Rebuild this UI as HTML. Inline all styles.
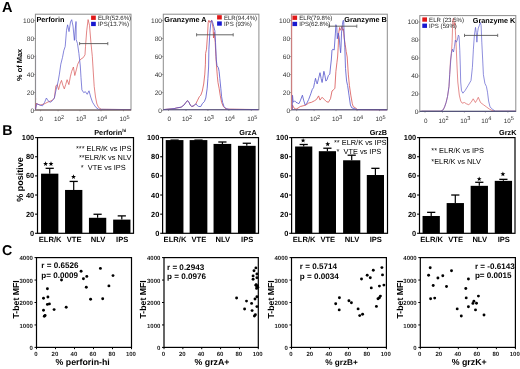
<!DOCTYPE html>
<html><head><meta charset="utf-8"><style>
html,body{margin:0;padding:0;background:#fff;width:520px;height:369px;overflow:hidden}
svg{display:block;font-family:"Liberation Sans", sans-serif;will-change:transform;text-rendering:geometricPrecision}
</style></head><body>
<svg width="520" height="369" viewBox="0 0 520 369">
<text x="1.90" y="12.30" font-size="14.5" font-weight="bold" text-anchor="start" fill="#000" >A</text>
<text x="2.30" y="134.80" font-size="14.2" font-weight="bold" text-anchor="start" fill="#000" >B</text>
<text x="2.00" y="254.70" font-size="14.2" font-weight="bold" text-anchor="start" fill="#000" >C</text>
<line x1="35.60" y1="55.00" x2="35.60" y2="100.00" stroke="#9a8cc0" stroke-width="0.9" />
<line x1="35.60" y1="98.00" x2="35.60" y2="110.00" stroke="#d88a8a" stroke-width="0.9" />
<rect x="35.40" y="14.20" width="95.60" height="95.80" fill="none" stroke="#8c8c8c" stroke-width="1"/>
<line x1="33.80" y1="110.60" x2="35.40" y2="110.60" stroke="#777" stroke-width="0.7" />
<text x="34.10" y="112.95" font-size="6.6" font-weight="normal" text-anchor="end" fill="#333" >0</text>
<line x1="33.80" y1="92.60" x2="35.40" y2="92.60" stroke="#777" stroke-width="0.7" />
<text x="34.10" y="94.95" font-size="6.6" font-weight="normal" text-anchor="end" fill="#333" >20</text>
<line x1="33.80" y1="74.60" x2="35.40" y2="74.60" stroke="#777" stroke-width="0.7" />
<text x="34.10" y="76.95" font-size="6.6" font-weight="normal" text-anchor="end" fill="#333" >40</text>
<line x1="33.80" y1="56.60" x2="35.40" y2="56.60" stroke="#777" stroke-width="0.7" />
<text x="34.10" y="58.95" font-size="6.6" font-weight="normal" text-anchor="end" fill="#333" >60</text>
<line x1="33.80" y1="38.60" x2="35.40" y2="38.60" stroke="#777" stroke-width="0.7" />
<text x="34.10" y="40.95" font-size="6.6" font-weight="normal" text-anchor="end" fill="#333" >80</text>
<line x1="33.80" y1="20.60" x2="35.40" y2="20.60" stroke="#777" stroke-width="0.7" />
<text x="34.10" y="22.95" font-size="6.6" font-weight="normal" text-anchor="end" fill="#333" >100</text>
<text x="41.30" y="121.30" font-size="6.3" font-weight="normal" text-anchor="middle" fill="#333" >0</text>
<text x="59.10" y="121.30" font-size="6.3" font-weight="normal" text-anchor="middle" fill="#333" >10<tspan font-size="5.6" dy="-2.3">2</tspan></text>
<text x="81.00" y="121.30" font-size="6.3" font-weight="normal" text-anchor="middle" fill="#333" >10<tspan font-size="5.6" dy="-2.3">3</tspan></text>
<text x="102.00" y="121.30" font-size="6.3" font-weight="normal" text-anchor="middle" fill="#333" >10<tspan font-size="5.6" dy="-2.3">4</tspan></text>
<text x="124.50" y="121.30" font-size="6.3" font-weight="normal" text-anchor="middle" fill="#333" >10<tspan font-size="5.6" dy="-2.3">5</tspan></text>
<line x1="40.60" y1="110.00" x2="40.60" y2="111.30" stroke="#777" stroke-width="0.6" />
<line x1="58.10" y1="110.00" x2="58.10" y2="111.30" stroke="#777" stroke-width="0.6" />
<line x1="80.00" y1="110.00" x2="80.00" y2="111.30" stroke="#777" stroke-width="0.6" />
<line x1="101.00" y1="110.00" x2="101.00" y2="111.30" stroke="#777" stroke-width="0.6" />
<line x1="123.50" y1="110.00" x2="123.50" y2="111.30" stroke="#777" stroke-width="0.6" />
<polyline points="35.5,109.5 36.2,103.0 37.0,104.0 40.3,105.0 44.0,104.0 48.0,102.0 52.0,100.5 54.4,98.0 55.8,86.0 57.2,84.6 58.6,89.6 60.0,84.0 61.5,80.4 62.9,85.4 64.3,88.9 65.7,84.6 67.1,79.7 68.9,84.6 70.3,76.9 71.7,71.3 73.4,67.0 74.8,75.5 76.3,69.9 77.7,64.2 79.6,60.5 81.0,59.0 83.2,57.7 85.0,54.8 85.5,46.4 86.7,30.9 88.1,19.6 89.5,25.3 90.9,42.2 92.3,56.3 93.4,74.0 94.2,86.4 95.5,97.0 96.9,104.0 98.6,107.5 101.3,109.3 131.0,109.6" fill="none" stroke="#d85555" stroke-width="0.95" stroke-linejoin="round" opacity="0.75"/>
<polyline points="35.5,109.5 36.8,103.7 39.6,105.0 42.5,105.8 44.6,102.3 46.4,98.0 48.1,100.8 50.2,102.3 52.3,100.8 54.4,98.0 55.8,91.0 57.2,85.4 58.2,81.1 59.4,74.1 60.8,64.2 62.5,57.4 63.8,50.6 65.2,46.5 66.5,30.3 67.6,24.8 69.0,31.6 70.5,22.0 71.7,19.7 73.0,26.0 74.4,40.4 75.2,30.0 76.0,21.5 76.1,22.5 76.1,39.4 77.5,43.6 78.9,53.4 80.3,66.0 81.0,77.6 81.9,89.9 83.7,92.6 85.4,91.7 87.2,94.3 89.0,90.8 90.7,97.0 92.5,102.2 94.2,104.9 96.0,107.5 98.6,109.3 131.0,109.6" fill="none" stroke="#5555cc" stroke-width="0.95" stroke-linejoin="round" opacity="0.75"/>
<line x1="79.60" y1="43.60" x2="107.80" y2="43.60" stroke="#555" stroke-width="0.9" />
<line x1="79.60" y1="42.00" x2="79.60" y2="45.20" stroke="#555" stroke-width="0.8" />
<line x1="107.80" y1="42.00" x2="107.80" y2="45.20" stroke="#555" stroke-width="0.8" />
<line x1="35.40" y1="110.00" x2="131.00" y2="110.00" stroke="#6a5555" stroke-width="1.1" />
<text x="36.40" y="22.10" font-size="7.3" font-weight="bold" text-anchor="start" fill="#000" >Perforin</text>
<rect x="91.10" y="15.60" width="4.70" height="4.30" fill="#e01818" />
<rect x="91.10" y="21.80" width="4.70" height="4.30" fill="#1818d0" />
<text x="97.90" y="20.20" font-size="6.1" font-weight="normal" text-anchor="start" fill="#222" >ELR(52.6%)</text>
<text x="97.90" y="26.40" font-size="6.1" font-weight="normal" text-anchor="start" fill="#222" >IPS(13.7%)</text>
<rect x="163.30" y="14.20" width="95.60" height="95.50" fill="none" stroke="#8c8c8c" stroke-width="1"/>
<line x1="161.70" y1="110.60" x2="163.30" y2="110.60" stroke="#777" stroke-width="0.7" />
<text x="162.00" y="112.95" font-size="6.6" font-weight="normal" text-anchor="end" fill="#333" >0</text>
<line x1="161.70" y1="92.60" x2="163.30" y2="92.60" stroke="#777" stroke-width="0.7" />
<text x="162.00" y="94.95" font-size="6.6" font-weight="normal" text-anchor="end" fill="#333" >20</text>
<line x1="161.70" y1="74.60" x2="163.30" y2="74.60" stroke="#777" stroke-width="0.7" />
<text x="162.00" y="76.95" font-size="6.6" font-weight="normal" text-anchor="end" fill="#333" >40</text>
<line x1="161.70" y1="56.60" x2="163.30" y2="56.60" stroke="#777" stroke-width="0.7" />
<text x="162.00" y="58.95" font-size="6.6" font-weight="normal" text-anchor="end" fill="#333" >60</text>
<line x1="161.70" y1="38.60" x2="163.30" y2="38.60" stroke="#777" stroke-width="0.7" />
<text x="162.00" y="40.95" font-size="6.6" font-weight="normal" text-anchor="end" fill="#333" >80</text>
<line x1="161.70" y1="20.60" x2="163.30" y2="20.60" stroke="#777" stroke-width="0.7" />
<text x="162.00" y="22.95" font-size="6.6" font-weight="normal" text-anchor="end" fill="#333" >100</text>
<text x="169.20" y="121.00" font-size="6.3" font-weight="normal" text-anchor="middle" fill="#333" >0</text>
<text x="187.00" y="121.00" font-size="6.3" font-weight="normal" text-anchor="middle" fill="#333" >10<tspan font-size="5.6" dy="-2.3">2</tspan></text>
<text x="208.90" y="121.00" font-size="6.3" font-weight="normal" text-anchor="middle" fill="#333" >10<tspan font-size="5.6" dy="-2.3">3</tspan></text>
<text x="229.90" y="121.00" font-size="6.3" font-weight="normal" text-anchor="middle" fill="#333" >10<tspan font-size="5.6" dy="-2.3">4</tspan></text>
<text x="252.40" y="121.00" font-size="6.3" font-weight="normal" text-anchor="middle" fill="#333" >10<tspan font-size="5.6" dy="-2.3">5</tspan></text>
<line x1="168.50" y1="109.70" x2="168.50" y2="111.00" stroke="#777" stroke-width="0.6" />
<line x1="186.00" y1="109.70" x2="186.00" y2="111.00" stroke="#777" stroke-width="0.6" />
<line x1="207.90" y1="109.70" x2="207.90" y2="111.00" stroke="#777" stroke-width="0.6" />
<line x1="228.90" y1="109.70" x2="228.90" y2="111.00" stroke="#777" stroke-width="0.6" />
<line x1="251.40" y1="109.70" x2="251.40" y2="111.00" stroke="#777" stroke-width="0.6" />
<polyline points="163.2,109.6 174.1,108.6 176.9,107.9 181.1,107.2 184.0,105.0 186.0,102.3 187.5,100.6 188.9,102.3 190.3,105.0 191.7,106.5 193.8,105.8 195.9,103.7 197.3,100.8 199.4,96.6 200.8,95.2 202.3,91.0 203.7,84.0 204.8,74.1 205.4,64.2 205.6,53.4 206.5,49.2 207.5,35.1 208.2,22.5 208.9,20.3 209.9,22.5 210.7,21.0 211.7,20.3 213.1,28.1 213.5,38.0 214.2,32.3 215.2,42.2 215.9,56.3 216.6,67.0 217.4,76.9 218.0,82.6 219.1,88.2 220.2,95.3 221.6,102.3 223.3,106.5 226.2,109.1 258.0,109.6" fill="none" stroke="#d85555" stroke-width="0.95" stroke-linejoin="round" opacity="0.85"/>
<polyline points="163.2,109.6 174.1,108.6 176.9,107.9 181.1,107.2 184.0,105.0 186.0,102.3 187.5,100.6 188.9,102.3 190.3,105.0 191.7,106.5 193.8,105.8 195.9,103.7 196.6,105.0 198.7,106.5 200.8,106.5 202.3,103.7 204.4,101.5 205.8,98.0 207.2,88.2 207.9,78.3 208.6,67.0 208.9,49.2 209.9,32.3 210.7,23.9 211.7,20.3 212.7,22.5 213.8,26.7 214.9,30.9 215.5,42.2 216.3,60.0 217.0,65.6 218.4,67.8 219.1,71.3 219.8,78.3 220.8,88.2 221.6,96.7 222.6,102.3 224.0,106.5 226.2,108.7 229.0,109.4 258.0,109.6" fill="none" stroke="#5555cc" stroke-width="0.95" stroke-linejoin="round" opacity="0.85"/>
<line x1="196.60" y1="34.80" x2="233.20" y2="34.80" stroke="#555" stroke-width="0.9" />
<line x1="196.60" y1="33.20" x2="196.60" y2="36.40" stroke="#555" stroke-width="0.8" />
<line x1="233.20" y1="33.20" x2="233.20" y2="36.40" stroke="#555" stroke-width="0.8" />
<line x1="163.30" y1="109.70" x2="258.90" y2="109.70" stroke="#5a5080" stroke-width="1.1" />
<text x="164.30" y="22.10" font-size="7.3" font-weight="bold" text-anchor="start" fill="#000" >Granzyme A</text>
<rect x="217.10" y="15.20" width="4.70" height="4.30" fill="#e01818" />
<rect x="217.10" y="21.40" width="4.70" height="4.30" fill="#1818d0" />
<text x="223.90" y="19.80" font-size="6.1" font-weight="normal" text-anchor="start" fill="#222" >ELR(94.4%)</text>
<text x="223.90" y="26.00" font-size="6.1" font-weight="normal" text-anchor="start" fill="#222" >IPS (93%)</text>
<rect x="291.40" y="14.20" width="95.90" height="95.60" fill="none" stroke="#8c8c8c" stroke-width="1"/>
<line x1="289.80" y1="110.60" x2="291.40" y2="110.60" stroke="#777" stroke-width="0.7" />
<text x="290.10" y="112.95" font-size="6.6" font-weight="normal" text-anchor="end" fill="#333" >0</text>
<line x1="289.80" y1="92.60" x2="291.40" y2="92.60" stroke="#777" stroke-width="0.7" />
<text x="290.10" y="94.95" font-size="6.6" font-weight="normal" text-anchor="end" fill="#333" >20</text>
<line x1="289.80" y1="74.60" x2="291.40" y2="74.60" stroke="#777" stroke-width="0.7" />
<text x="290.10" y="76.95" font-size="6.6" font-weight="normal" text-anchor="end" fill="#333" >40</text>
<line x1="289.80" y1="56.60" x2="291.40" y2="56.60" stroke="#777" stroke-width="0.7" />
<text x="290.10" y="58.95" font-size="6.6" font-weight="normal" text-anchor="end" fill="#333" >60</text>
<line x1="289.80" y1="38.60" x2="291.40" y2="38.60" stroke="#777" stroke-width="0.7" />
<text x="290.10" y="40.95" font-size="6.6" font-weight="normal" text-anchor="end" fill="#333" >80</text>
<line x1="289.80" y1="20.60" x2="291.40" y2="20.60" stroke="#777" stroke-width="0.7" />
<text x="290.10" y="22.95" font-size="6.6" font-weight="normal" text-anchor="end" fill="#333" >100</text>
<text x="297.30" y="121.10" font-size="6.3" font-weight="normal" text-anchor="middle" fill="#333" >0</text>
<text x="315.10" y="121.10" font-size="6.3" font-weight="normal" text-anchor="middle" fill="#333" >10<tspan font-size="5.6" dy="-2.3">2</tspan></text>
<text x="337.00" y="121.10" font-size="6.3" font-weight="normal" text-anchor="middle" fill="#333" >10<tspan font-size="5.6" dy="-2.3">3</tspan></text>
<text x="358.00" y="121.10" font-size="6.3" font-weight="normal" text-anchor="middle" fill="#333" >10<tspan font-size="5.6" dy="-2.3">4</tspan></text>
<text x="380.50" y="121.10" font-size="6.3" font-weight="normal" text-anchor="middle" fill="#333" >10<tspan font-size="5.6" dy="-2.3">5</tspan></text>
<line x1="296.60" y1="109.80" x2="296.60" y2="111.10" stroke="#777" stroke-width="0.6" />
<line x1="314.10" y1="109.80" x2="314.10" y2="111.10" stroke="#777" stroke-width="0.6" />
<line x1="336.00" y1="109.80" x2="336.00" y2="111.10" stroke="#777" stroke-width="0.6" />
<line x1="357.00" y1="109.80" x2="357.00" y2="111.10" stroke="#777" stroke-width="0.6" />
<line x1="379.50" y1="109.80" x2="379.50" y2="111.10" stroke="#777" stroke-width="0.6" />
<polyline points="292.1,109.5 292.5,105.0 293.9,107.9 296.0,109.3 298.2,107.9 300.3,106.5 303.1,105.8 305.9,105.0 308.7,103.0 311.5,102.3 314.4,100.8 316.5,99.4 318.6,95.9 320.0,100.1 322.1,97.3 324.2,99.4 326.3,101.5 328.4,102.3 330.5,98.7 332.0,91.0 333.8,89.6 334.9,88.2 335.9,71.3 336.9,62.8 337.6,57.0 338.2,47.2 338.7,33.1 339.6,27.5 340.1,30.3 341.0,28.9 342.0,26.1 342.7,30.3 343.4,28.9 344.1,37.4 345.2,44.4 346.2,51.4 347.2,57.0 348.3,74.1 349.4,85.4 350.8,95.2 352.3,103.7 353.2,106.5 355.4,107.9 357.5,109.6 387.0,109.8" fill="none" stroke="#d85555" stroke-width="0.95" stroke-linejoin="round" opacity="0.85"/>
<polyline points="292.3,109.5 292.5,95.2 293.2,102.3 294.6,100.8 296.0,102.3 297.5,103.0 298.9,103.7 300.3,100.8 302.4,95.2 303.8,100.8 305.2,105.0 306.6,103.7 308.7,99.4 310.8,93.8 312.2,89.6 313.6,87.5 314.6,82.5 315.5,78.3 316.5,82.5 317.2,83.9 318.6,78.3 320.0,72.7 321.1,78.3 322.1,82.5 322.8,78.3 323.9,71.3 324.9,75.5 325.9,81.1 327.0,79.7 328.4,75.5 329.8,74.1 330.5,67.0 331.3,60.0 332.0,50.0 332.8,49.3 334.2,50.0 335.4,33.1 335.9,24.7 336.8,27.5 337.3,38.8 338.2,33.1 339.2,37.4 339.9,45.8 340.6,52.8 341.0,47.2 341.5,33.1 342.4,24.7 343.1,20.5 343.7,20.5 344.1,33.1 344.8,47.2 345.5,68.5 346.6,81.1 347.6,85.4 349.0,95.2 350.4,105.0 351.8,107.9 354.6,108.6 356.8,109.6 387.0,109.8" fill="none" stroke="#5555cc" stroke-width="0.95" stroke-linejoin="round" opacity="0.85"/>
<line x1="329.10" y1="26.20" x2="356.80" y2="26.20" stroke="#555" stroke-width="0.9" />
<line x1="329.10" y1="24.60" x2="329.10" y2="27.80" stroke="#555" stroke-width="0.8" />
<line x1="356.80" y1="24.60" x2="356.80" y2="27.80" stroke="#555" stroke-width="0.8" />
<line x1="291.40" y1="109.80" x2="387.30" y2="109.80" stroke="#5a5080" stroke-width="1.1" />
<text x="386.90" y="21.90" font-size="7.3" font-weight="bold" text-anchor="end" fill="#000" >Granzyme B</text>
<rect x="292.40" y="15.60" width="4.70" height="4.30" fill="#e01818" />
<rect x="292.40" y="21.80" width="4.70" height="4.30" fill="#1818d0" />
<text x="299.20" y="20.20" font-size="6.1" font-weight="normal" text-anchor="start" fill="#222" >ELR(79.8%)</text>
<text x="299.20" y="26.40" font-size="6.1" font-weight="normal" text-anchor="start" fill="#222" >IPS(62.8%)</text>
<rect x="419.80" y="15.60" width="96.00" height="95.80" fill="none" stroke="#8c8c8c" stroke-width="1"/>
<line x1="418.20" y1="112.00" x2="419.80" y2="112.00" stroke="#777" stroke-width="0.7" />
<text x="418.50" y="114.35" font-size="6.6" font-weight="normal" text-anchor="end" fill="#333" >0</text>
<line x1="418.20" y1="94.00" x2="419.80" y2="94.00" stroke="#777" stroke-width="0.7" />
<text x="418.50" y="96.35" font-size="6.6" font-weight="normal" text-anchor="end" fill="#333" >20</text>
<line x1="418.20" y1="76.00" x2="419.80" y2="76.00" stroke="#777" stroke-width="0.7" />
<text x="418.50" y="78.35" font-size="6.6" font-weight="normal" text-anchor="end" fill="#333" >40</text>
<line x1="418.20" y1="58.00" x2="419.80" y2="58.00" stroke="#777" stroke-width="0.7" />
<text x="418.50" y="60.35" font-size="6.6" font-weight="normal" text-anchor="end" fill="#333" >60</text>
<line x1="418.20" y1="40.00" x2="419.80" y2="40.00" stroke="#777" stroke-width="0.7" />
<text x="418.50" y="42.35" font-size="6.6" font-weight="normal" text-anchor="end" fill="#333" >80</text>
<line x1="418.20" y1="22.00" x2="419.80" y2="22.00" stroke="#777" stroke-width="0.7" />
<text x="418.50" y="24.35" font-size="6.6" font-weight="normal" text-anchor="end" fill="#333" >100</text>
<text x="425.70" y="122.70" font-size="6.3" font-weight="normal" text-anchor="middle" fill="#333" >0</text>
<text x="443.50" y="122.70" font-size="6.3" font-weight="normal" text-anchor="middle" fill="#333" >10<tspan font-size="5.6" dy="-2.3">2</tspan></text>
<text x="465.40" y="122.70" font-size="6.3" font-weight="normal" text-anchor="middle" fill="#333" >10<tspan font-size="5.6" dy="-2.3">3</tspan></text>
<text x="486.40" y="122.70" font-size="6.3" font-weight="normal" text-anchor="middle" fill="#333" >10<tspan font-size="5.6" dy="-2.3">4</tspan></text>
<text x="508.90" y="122.70" font-size="6.3" font-weight="normal" text-anchor="middle" fill="#333" >10<tspan font-size="5.6" dy="-2.3">5</tspan></text>
<line x1="425.00" y1="111.40" x2="425.00" y2="112.70" stroke="#777" stroke-width="0.6" />
<line x1="442.50" y1="111.40" x2="442.50" y2="112.70" stroke="#777" stroke-width="0.6" />
<line x1="464.40" y1="111.40" x2="464.40" y2="112.70" stroke="#777" stroke-width="0.6" />
<line x1="485.40" y1="111.40" x2="485.40" y2="112.70" stroke="#777" stroke-width="0.6" />
<line x1="507.90" y1="111.40" x2="507.90" y2="112.70" stroke="#777" stroke-width="0.6" />
<polyline points="421.5,111.2 441.0,111.2 443.2,109.8 444.6,106.9 446.1,102.5 447.5,96.6 449.0,86.4 449.7,74.6 450.5,60.0 451.4,53.4 452.1,42.2 452.5,28.1 452.8,19.6 453.5,18.2 454.2,25.3 454.9,22.5 455.6,35.1 456.3,49.2 457.0,66.0 457.8,82.0 459.3,95.1 460.7,101.0 462.2,103.2 464.4,102.5 466.6,103.9 468.8,104.7 471.0,102.5 473.2,98.8 475.4,102.5 476.8,100.3 478.3,97.3 480.5,102.5 483.4,104.7 486.4,106.9 489.3,109.0 492.2,110.5 495.1,111.2 516.0,111.2" fill="none" stroke="#d85555" stroke-width="0.95" stroke-linejoin="round" opacity="0.7"/>
<polyline points="421.5,111.2 441.0,111.2 443.2,109.8 444.6,106.9 446.1,102.5 447.5,96.6 449.0,86.4 449.7,74.6 450.3,66.0 451.4,53.4 452.5,49.2 453.5,52.0 454.5,46.4 455.3,40.1 456.3,42.2 457.3,40.1 458.4,35.1 459.1,36.5 459.8,50.6 460.3,66.0 460.7,82.0 461.5,90.7 462.9,93.2 465.1,90.5 468.1,85.6 471.0,80.5 472.4,67.3 473.4,49.2 474.4,35.1 475.5,27.4 476.2,32.3 476.9,42.2 477.6,32.3 478.3,28.1 479.4,25.3 480.4,22.5 481.1,25.3 481.8,42.2 482.7,60.0 483.4,74.6 484.9,83.4 486.4,86.4 487.5,92.2 488.6,101.0 490.0,106.9 492.2,109.0 495.1,111.2 516.0,111.2" fill="none" stroke="#5555cc" stroke-width="0.95" stroke-linejoin="round" opacity="0.7"/>
<line x1="464.50" y1="35.40" x2="497.70" y2="35.40" stroke="#555" stroke-width="0.9" />
<line x1="464.50" y1="33.80" x2="464.50" y2="37.00" stroke="#555" stroke-width="0.8" />
<line x1="497.70" y1="33.80" x2="497.70" y2="37.00" stroke="#555" stroke-width="0.8" />
<line x1="419.80" y1="111.40" x2="515.80" y2="111.40" stroke="#55557a" stroke-width="1.1" />
<text x="515.40" y="23.30" font-size="7.3" font-weight="bold" text-anchor="end" fill="#000" >Granzyme K</text>
<rect x="422.30" y="17.40" width="4.70" height="4.30" fill="#e01818" />
<rect x="422.30" y="23.60" width="4.70" height="4.30" fill="#1818d0" />
<text x="429.10" y="22.00" font-size="6.1" font-weight="normal" text-anchor="start" fill="#222" >ELR (23.5%)</text>
<text x="429.10" y="28.20" font-size="6.1" font-weight="normal" text-anchor="start" fill="#222" >IPS (59%)</text>
<line x1="291.70" y1="15.00" x2="291.70" y2="109.50" stroke="#d87a7a" stroke-width="1.0" />
<text transform="translate(21.60,64.90) rotate(-90)" font-size="7.4" font-weight="bold" text-anchor="middle">% of Max</text>
<rect x="37.50" y="137.6" width="96.00" height="95.70" fill="none" stroke="#000" stroke-width="1.2"/>
<line x1="35.10" y1="233.30" x2="37.50" y2="233.30" stroke="#000" stroke-width="1.1" />
<text x="34.20" y="235.90" font-size="7.4" font-weight="bold" text-anchor="end" fill="#000" >0</text>
<line x1="35.10" y1="214.16" x2="37.50" y2="214.16" stroke="#000" stroke-width="1.1" />
<text x="34.20" y="216.76" font-size="7.4" font-weight="bold" text-anchor="end" fill="#000" >20</text>
<line x1="35.10" y1="195.02" x2="37.50" y2="195.02" stroke="#000" stroke-width="1.1" />
<text x="34.20" y="197.62" font-size="7.4" font-weight="bold" text-anchor="end" fill="#000" >40</text>
<line x1="35.10" y1="175.88" x2="37.50" y2="175.88" stroke="#000" stroke-width="1.1" />
<text x="34.20" y="178.48" font-size="7.4" font-weight="bold" text-anchor="end" fill="#000" >60</text>
<line x1="35.10" y1="156.74" x2="37.50" y2="156.74" stroke="#000" stroke-width="1.1" />
<text x="34.20" y="159.34" font-size="7.4" font-weight="bold" text-anchor="end" fill="#000" >80</text>
<line x1="35.10" y1="137.60" x2="37.50" y2="137.60" stroke="#000" stroke-width="1.1" />
<text x="34.20" y="140.20" font-size="7.4" font-weight="bold" text-anchor="end" fill="#000" >100</text>
<rect x="41.05" y="173.68" width="17.30" height="59.62" fill="#000" />
<line x1="49.70" y1="168.32" x2="49.70" y2="173.68" stroke="#000" stroke-width="1.2" />
<line x1="45.60" y1="168.32" x2="53.80" y2="168.32" stroke="#000" stroke-width="1.3" />
<rect x="65.05" y="189.95" width="17.30" height="43.35" fill="#000" />
<line x1="73.70" y1="181.43" x2="73.70" y2="189.95" stroke="#000" stroke-width="1.2" />
<line x1="69.60" y1="181.43" x2="77.80" y2="181.43" stroke="#000" stroke-width="1.3" />
<rect x="88.95" y="217.80" width="17.30" height="15.50" fill="#000" />
<line x1="97.60" y1="214.26" x2="97.60" y2="217.80" stroke="#000" stroke-width="1.2" />
<line x1="93.50" y1="214.26" x2="101.70" y2="214.26" stroke="#000" stroke-width="1.3" />
<rect x="113.15" y="219.61" width="17.30" height="13.69" fill="#000" />
<line x1="121.80" y1="215.88" x2="121.80" y2="219.61" stroke="#000" stroke-width="1.2" />
<line x1="117.70" y1="215.88" x2="125.90" y2="215.88" stroke="#000" stroke-width="1.3" />
<text x="50.10" y="241.60" font-size="7.6" font-weight="bold" text-anchor="middle" fill="#000" >ELR/K</text>
<text x="74.10" y="241.60" font-size="7.6" font-weight="bold" text-anchor="middle" fill="#000" >VTE</text>
<text x="98.00" y="241.60" font-size="7.6" font-weight="bold" text-anchor="middle" fill="#000" >NLV</text>
<text x="122.20" y="241.60" font-size="7.6" font-weight="bold" text-anchor="middle" fill="#000" >IPS</text>
<text x="126.30" y="135.10" font-size="7.3" font-weight="bold" text-anchor="end" fill="#000" >Perforin<tspan font-size="4.6" dy="-2.8">hi</tspan></text>
<polygon points="45.60,161.35 46.23,163.03 48.03,163.11 46.62,164.23 47.10,165.96 45.60,164.97 44.10,165.96 44.58,164.23 43.17,163.11 44.97,163.03" fill="#000"/>
<polygon points="51.00,161.35 51.63,163.03 53.43,163.11 52.02,164.23 52.50,165.96 51.00,164.97 49.50,165.96 49.98,164.23 48.57,163.11 50.37,163.03" fill="#000"/>
<polygon points="73.50,174.35 74.13,176.03 75.93,176.11 74.52,177.23 75.00,178.96 73.50,177.97 72.00,178.96 72.48,177.23 71.07,176.11 72.87,176.03" fill="#000"/>
<text x="131.40" y="151.30" font-size="7.4" font-weight="normal" text-anchor="end" fill="#000" xml:space="preserve">*** ELR/K vs IPS</text>
<text x="131.40" y="160.40" font-size="7.4" font-weight="normal" text-anchor="end" fill="#000" xml:space="preserve">**ELR/K vs NLV</text>
<text x="125.60" y="169.50" font-size="7.4" font-weight="normal" text-anchor="end" fill="#000" xml:space="preserve">*  VTE vs IPS</text>
<rect x="162.60" y="137.6" width="95.90" height="95.70" fill="none" stroke="#000" stroke-width="1.2"/>
<line x1="160.20" y1="233.30" x2="162.60" y2="233.30" stroke="#000" stroke-width="1.1" />
<text x="159.30" y="235.90" font-size="7.4" font-weight="bold" text-anchor="end" fill="#000" >0</text>
<line x1="160.20" y1="214.16" x2="162.60" y2="214.16" stroke="#000" stroke-width="1.1" />
<text x="159.30" y="216.76" font-size="7.4" font-weight="bold" text-anchor="end" fill="#000" >20</text>
<line x1="160.20" y1="195.02" x2="162.60" y2="195.02" stroke="#000" stroke-width="1.1" />
<text x="159.30" y="197.62" font-size="7.4" font-weight="bold" text-anchor="end" fill="#000" >40</text>
<line x1="160.20" y1="175.88" x2="162.60" y2="175.88" stroke="#000" stroke-width="1.1" />
<text x="159.30" y="178.48" font-size="7.4" font-weight="bold" text-anchor="end" fill="#000" >60</text>
<line x1="160.20" y1="156.74" x2="162.60" y2="156.74" stroke="#000" stroke-width="1.1" />
<text x="159.30" y="159.34" font-size="7.4" font-weight="bold" text-anchor="end" fill="#000" >80</text>
<line x1="160.20" y1="137.60" x2="162.60" y2="137.60" stroke="#000" stroke-width="1.1" />
<text x="159.30" y="140.20" font-size="7.4" font-weight="bold" text-anchor="end" fill="#000" >100</text>
<rect x="165.75" y="140.09" width="17.70" height="93.21" fill="#000" />
<line x1="174.60" y1="140.09" x2="174.60" y2="140.09" stroke="#000" stroke-width="1.2" />
<line x1="170.50" y1="140.09" x2="178.70" y2="140.09" stroke="#000" stroke-width="1.3" />
<rect x="189.65" y="140.09" width="17.70" height="93.21" fill="#000" />
<line x1="198.50" y1="140.09" x2="198.50" y2="140.09" stroke="#000" stroke-width="1.2" />
<line x1="194.40" y1="140.09" x2="202.60" y2="140.09" stroke="#000" stroke-width="1.3" />
<rect x="213.55" y="143.92" width="17.70" height="89.38" fill="#000" />
<line x1="222.40" y1="142.00" x2="222.40" y2="143.92" stroke="#000" stroke-width="1.2" />
<line x1="218.30" y1="142.00" x2="226.50" y2="142.00" stroke="#000" stroke-width="1.3" />
<rect x="237.95" y="145.83" width="17.70" height="87.47" fill="#000" />
<line x1="246.80" y1="143.25" x2="246.80" y2="145.83" stroke="#000" stroke-width="1.2" />
<line x1="242.70" y1="143.25" x2="250.90" y2="143.25" stroke="#000" stroke-width="1.3" />
<text x="175.00" y="241.60" font-size="7.6" font-weight="bold" text-anchor="middle" fill="#000" >ELR/K</text>
<text x="198.90" y="241.60" font-size="7.6" font-weight="bold" text-anchor="middle" fill="#000" >VTE</text>
<text x="222.80" y="241.60" font-size="7.6" font-weight="bold" text-anchor="middle" fill="#000" >NLV</text>
<text x="247.20" y="241.60" font-size="7.6" font-weight="bold" text-anchor="middle" fill="#000" >IPS</text>
<text x="256.80" y="135.10" font-size="7.3" font-weight="bold" text-anchor="end" fill="#000" >GrzA</text>
<rect x="291.60" y="137.6" width="95.90" height="95.70" fill="none" stroke="#000" stroke-width="1.2"/>
<line x1="289.20" y1="233.30" x2="291.60" y2="233.30" stroke="#000" stroke-width="1.1" />
<text x="288.30" y="235.90" font-size="7.4" font-weight="bold" text-anchor="end" fill="#000" >0</text>
<line x1="289.20" y1="214.16" x2="291.60" y2="214.16" stroke="#000" stroke-width="1.1" />
<text x="288.30" y="216.76" font-size="7.4" font-weight="bold" text-anchor="end" fill="#000" >20</text>
<line x1="289.20" y1="195.02" x2="291.60" y2="195.02" stroke="#000" stroke-width="1.1" />
<text x="288.30" y="197.62" font-size="7.4" font-weight="bold" text-anchor="end" fill="#000" >40</text>
<line x1="289.20" y1="175.88" x2="291.60" y2="175.88" stroke="#000" stroke-width="1.1" />
<text x="288.30" y="178.48" font-size="7.4" font-weight="bold" text-anchor="end" fill="#000" >60</text>
<line x1="289.20" y1="156.74" x2="291.60" y2="156.74" stroke="#000" stroke-width="1.1" />
<text x="288.30" y="159.34" font-size="7.4" font-weight="bold" text-anchor="end" fill="#000" >80</text>
<line x1="289.20" y1="137.60" x2="291.60" y2="137.60" stroke="#000" stroke-width="1.1" />
<text x="288.30" y="140.20" font-size="7.4" font-weight="bold" text-anchor="end" fill="#000" >100</text>
<rect x="295.10" y="146.50" width="17.20" height="86.80" fill="#000" />
<line x1="303.70" y1="144.49" x2="303.70" y2="146.50" stroke="#000" stroke-width="1.2" />
<line x1="299.60" y1="144.49" x2="307.80" y2="144.49" stroke="#000" stroke-width="1.3" />
<rect x="318.80" y="151.19" width="17.20" height="82.11" fill="#000" />
<line x1="327.40" y1="148.22" x2="327.40" y2="151.19" stroke="#000" stroke-width="1.2" />
<line x1="323.30" y1="148.22" x2="331.50" y2="148.22" stroke="#000" stroke-width="1.3" />
<rect x="343.10" y="160.28" width="17.20" height="73.02" fill="#000" />
<line x1="351.70" y1="155.21" x2="351.70" y2="160.28" stroke="#000" stroke-width="1.2" />
<line x1="347.60" y1="155.21" x2="355.80" y2="155.21" stroke="#000" stroke-width="1.3" />
<rect x="366.80" y="175.02" width="17.20" height="58.28" fill="#000" />
<line x1="375.40" y1="168.32" x2="375.40" y2="175.02" stroke="#000" stroke-width="1.2" />
<line x1="371.30" y1="168.32" x2="379.50" y2="168.32" stroke="#000" stroke-width="1.3" />
<text x="304.10" y="241.60" font-size="7.6" font-weight="bold" text-anchor="middle" fill="#000" >ELR/K</text>
<text x="327.80" y="241.60" font-size="7.6" font-weight="bold" text-anchor="middle" fill="#000" >VTE</text>
<text x="352.10" y="241.60" font-size="7.6" font-weight="bold" text-anchor="middle" fill="#000" >NLV</text>
<text x="375.80" y="241.60" font-size="7.6" font-weight="bold" text-anchor="middle" fill="#000" >IPS</text>
<text x="387.10" y="135.10" font-size="7.3" font-weight="bold" text-anchor="end" fill="#000" >GrzB</text>
<polygon points="303.10,137.95 303.73,139.63 305.53,139.71 304.12,140.83 304.60,142.56 303.10,141.57 301.60,142.56 302.08,140.83 300.67,139.71 302.47,139.63" fill="#000"/>
<polygon points="327.70,141.55 328.33,143.23 330.13,143.31 328.72,144.43 329.20,146.16 327.70,145.17 326.20,146.16 326.68,144.43 325.27,143.31 327.07,143.23" fill="#000"/>
<text x="386.50" y="144.60" font-size="7.4" font-weight="normal" text-anchor="end" fill="#000" xml:space="preserve">** ELR/K vs IPS</text>
<text x="336.50" y="153.50" font-size="7.4" font-weight="normal" text-anchor="start" fill="#000" xml:space="preserve">*  VTE vs IPS</text>
<rect x="419.50" y="137.6" width="95.50" height="95.70" fill="none" stroke="#000" stroke-width="1.2"/>
<line x1="417.10" y1="233.30" x2="419.50" y2="233.30" stroke="#000" stroke-width="1.1" />
<text x="416.20" y="235.90" font-size="7.4" font-weight="bold" text-anchor="end" fill="#000" >0</text>
<line x1="417.10" y1="214.16" x2="419.50" y2="214.16" stroke="#000" stroke-width="1.1" />
<text x="416.20" y="216.76" font-size="7.4" font-weight="bold" text-anchor="end" fill="#000" >20</text>
<line x1="417.10" y1="195.02" x2="419.50" y2="195.02" stroke="#000" stroke-width="1.1" />
<text x="416.20" y="197.62" font-size="7.4" font-weight="bold" text-anchor="end" fill="#000" >40</text>
<line x1="417.10" y1="175.88" x2="419.50" y2="175.88" stroke="#000" stroke-width="1.1" />
<text x="416.20" y="178.48" font-size="7.4" font-weight="bold" text-anchor="end" fill="#000" >60</text>
<line x1="417.10" y1="156.74" x2="419.50" y2="156.74" stroke="#000" stroke-width="1.1" />
<text x="416.20" y="159.34" font-size="7.4" font-weight="bold" text-anchor="end" fill="#000" >80</text>
<line x1="417.10" y1="137.60" x2="419.50" y2="137.60" stroke="#000" stroke-width="1.1" />
<text x="416.20" y="140.20" font-size="7.4" font-weight="bold" text-anchor="end" fill="#000" >100</text>
<rect x="422.55" y="215.98" width="17.30" height="17.32" fill="#000" />
<line x1="431.20" y1="212.34" x2="431.20" y2="215.98" stroke="#000" stroke-width="1.2" />
<line x1="427.10" y1="212.34" x2="435.30" y2="212.34" stroke="#000" stroke-width="1.3" />
<rect x="446.65" y="203.06" width="17.30" height="30.24" fill="#000" />
<line x1="455.30" y1="195.02" x2="455.30" y2="203.06" stroke="#000" stroke-width="1.2" />
<line x1="451.20" y1="195.02" x2="459.40" y2="195.02" stroke="#000" stroke-width="1.3" />
<rect x="470.65" y="185.83" width="17.30" height="47.47" fill="#000" />
<line x1="479.30" y1="182.29" x2="479.30" y2="185.83" stroke="#000" stroke-width="1.2" />
<line x1="475.20" y1="182.29" x2="483.40" y2="182.29" stroke="#000" stroke-width="1.3" />
<rect x="494.75" y="180.86" width="17.30" height="52.44" fill="#000" />
<line x1="503.40" y1="179.33" x2="503.40" y2="180.86" stroke="#000" stroke-width="1.2" />
<line x1="499.30" y1="179.33" x2="507.50" y2="179.33" stroke="#000" stroke-width="1.3" />
<text x="431.60" y="241.60" font-size="7.6" font-weight="bold" text-anchor="middle" fill="#000" >ELR/K</text>
<text x="455.70" y="241.60" font-size="7.6" font-weight="bold" text-anchor="middle" fill="#000" >VTE</text>
<text x="479.70" y="241.60" font-size="7.6" font-weight="bold" text-anchor="middle" fill="#000" >NLV</text>
<text x="503.80" y="241.60" font-size="7.6" font-weight="bold" text-anchor="middle" fill="#000" >IPS</text>
<text x="516.50" y="135.10" font-size="7.3" font-weight="bold" text-anchor="end" fill="#000" >GrzK</text>
<polygon points="479.20,176.45 479.83,178.13 481.63,178.21 480.22,179.33 480.70,181.06 479.20,180.07 477.70,181.06 478.18,179.33 476.77,178.21 478.57,178.13" fill="#000"/>
<polygon points="502.90,171.55 503.53,173.23 505.33,173.31 503.92,174.43 504.40,176.16 502.90,175.17 501.40,176.16 501.88,174.43 500.47,173.31 502.27,173.23" fill="#000"/>
<text x="431.30" y="153.00" font-size="7.4" font-weight="normal" text-anchor="start" fill="#000" xml:space="preserve">** ELR/K vs IPS</text>
<text x="431.30" y="164.20" font-size="7.4" font-weight="normal" text-anchor="start" fill="#000" xml:space="preserve">*ELR/K vs NLV</text>
<text transform="translate(23.30,179.50) rotate(-90)" font-size="9" font-weight="bold" text-anchor="middle">% positive</text>
<rect x="36.50" y="257.6" width="95.00" height="89.80" fill="none" stroke="#000" stroke-width="1.2"/>
<line x1="34.50" y1="347.40" x2="36.50" y2="347.40" stroke="#000" stroke-width="1" />
<text x="32.90" y="350.00" font-size="6" font-weight="bold" text-anchor="end" fill="#222" >0</text>
<line x1="34.50" y1="324.95" x2="36.50" y2="324.95" stroke="#000" stroke-width="1" />
<text x="32.90" y="327.55" font-size="6" font-weight="bold" text-anchor="end" fill="#222" >1000</text>
<line x1="34.50" y1="302.50" x2="36.50" y2="302.50" stroke="#000" stroke-width="1" />
<text x="32.90" y="305.10" font-size="6" font-weight="bold" text-anchor="end" fill="#222" >2000</text>
<line x1="34.50" y1="280.05" x2="36.50" y2="280.05" stroke="#000" stroke-width="1" />
<text x="32.90" y="282.65" font-size="6" font-weight="bold" text-anchor="end" fill="#222" >3000</text>
<line x1="34.50" y1="257.60" x2="36.50" y2="257.60" stroke="#000" stroke-width="1" />
<text x="32.90" y="260.20" font-size="6" font-weight="bold" text-anchor="end" fill="#222" >4000</text>
<line x1="36.50" y1="347.40" x2="36.50" y2="349.20" stroke="#000" stroke-width="1" />
<text x="35.90" y="356.00" font-size="6" font-weight="bold" text-anchor="middle" fill="#222" >0</text>
<line x1="55.50" y1="347.40" x2="55.50" y2="349.20" stroke="#000" stroke-width="1" />
<text x="54.90" y="356.00" font-size="6" font-weight="bold" text-anchor="middle" fill="#222" >20</text>
<line x1="74.50" y1="347.40" x2="74.50" y2="349.20" stroke="#000" stroke-width="1" />
<text x="73.90" y="356.00" font-size="6" font-weight="bold" text-anchor="middle" fill="#222" >40</text>
<line x1="93.50" y1="347.40" x2="93.50" y2="349.20" stroke="#000" stroke-width="1" />
<text x="92.90" y="356.00" font-size="6" font-weight="bold" text-anchor="middle" fill="#222" >60</text>
<line x1="112.50" y1="347.40" x2="112.50" y2="349.20" stroke="#000" stroke-width="1" />
<text x="111.90" y="356.00" font-size="6" font-weight="bold" text-anchor="middle" fill="#222" >80</text>
<line x1="131.50" y1="347.40" x2="131.50" y2="349.20" stroke="#000" stroke-width="1" />
<text x="130.90" y="356.00" font-size="6" font-weight="bold" text-anchor="middle" fill="#222" >100</text>
<circle cx="100.4" cy="268.4" r="1.45" fill="#000"/>
<circle cx="81.1" cy="271.2" r="1.45" fill="#000"/>
<circle cx="113.0" cy="275.6" r="1.45" fill="#000"/>
<circle cx="83.4" cy="278.7" r="1.45" fill="#000"/>
<circle cx="86.8" cy="276.4" r="1.45" fill="#000"/>
<circle cx="61.5" cy="280.0" r="1.45" fill="#000"/>
<circle cx="86.3" cy="287.2" r="1.45" fill="#000"/>
<circle cx="108.9" cy="285.9" r="1.45" fill="#000"/>
<circle cx="47.4" cy="288.7" r="1.45" fill="#000"/>
<circle cx="43.5" cy="298.2" r="1.45" fill="#000"/>
<circle cx="47.9" cy="297.0" r="1.45" fill="#000"/>
<circle cx="90.6" cy="299.3" r="1.45" fill="#000"/>
<circle cx="102.7" cy="298.8" r="1.45" fill="#000"/>
<circle cx="47.4" cy="304.4" r="1.45" fill="#000"/>
<circle cx="49.4" cy="303.9" r="1.45" fill="#000"/>
<circle cx="54.1" cy="309.6" r="1.45" fill="#000"/>
<circle cx="66.2" cy="307.3" r="1.45" fill="#000"/>
<circle cx="43.5" cy="310.3" r="1.45" fill="#000"/>
<circle cx="44.3" cy="316.3" r="1.45" fill="#000"/>
<circle cx="45.1" cy="315.5" r="1.45" fill="#000"/>
<text x="82.70" y="364.80" font-size="8.8" font-weight="bold" text-anchor="middle" fill="#000" >% perforin-hi</text>
<text x="41.30" y="268.30" font-size="8.1" font-weight="bold" text-anchor="start" fill="#000" >r = 0.6526</text>
<text x="41.30" y="277.60" font-size="8.1" font-weight="bold" text-anchor="start" fill="#000" >p= 0.0009</text>
<text transform="translate(18.70,299.40) rotate(-90)" font-size="8.7" font-weight="bold" text-anchor="middle">T-bet MFI</text>
<rect x="164.00" y="257.6" width="94.30" height="89.80" fill="none" stroke="#000" stroke-width="1.2"/>
<line x1="162.00" y1="347.40" x2="164.00" y2="347.40" stroke="#000" stroke-width="1" />
<text x="160.40" y="350.00" font-size="6" font-weight="bold" text-anchor="end" fill="#222" >0</text>
<line x1="162.00" y1="324.95" x2="164.00" y2="324.95" stroke="#000" stroke-width="1" />
<text x="160.40" y="327.55" font-size="6" font-weight="bold" text-anchor="end" fill="#222" >1000</text>
<line x1="162.00" y1="302.50" x2="164.00" y2="302.50" stroke="#000" stroke-width="1" />
<text x="160.40" y="305.10" font-size="6" font-weight="bold" text-anchor="end" fill="#222" >2000</text>
<line x1="162.00" y1="280.05" x2="164.00" y2="280.05" stroke="#000" stroke-width="1" />
<text x="160.40" y="282.65" font-size="6" font-weight="bold" text-anchor="end" fill="#222" >3000</text>
<line x1="162.00" y1="257.60" x2="164.00" y2="257.60" stroke="#000" stroke-width="1" />
<text x="160.40" y="260.20" font-size="6" font-weight="bold" text-anchor="end" fill="#222" >4000</text>
<line x1="164.00" y1="347.40" x2="164.00" y2="349.20" stroke="#000" stroke-width="1" />
<text x="163.40" y="356.00" font-size="6" font-weight="bold" text-anchor="middle" fill="#222" >0</text>
<line x1="182.86" y1="347.40" x2="182.86" y2="349.20" stroke="#000" stroke-width="1" />
<text x="182.26" y="356.00" font-size="6" font-weight="bold" text-anchor="middle" fill="#222" >20</text>
<line x1="201.72" y1="347.40" x2="201.72" y2="349.20" stroke="#000" stroke-width="1" />
<text x="201.12" y="356.00" font-size="6" font-weight="bold" text-anchor="middle" fill="#222" >40</text>
<line x1="220.58" y1="347.40" x2="220.58" y2="349.20" stroke="#000" stroke-width="1" />
<text x="219.98" y="356.00" font-size="6" font-weight="bold" text-anchor="middle" fill="#222" >60</text>
<line x1="239.44" y1="347.40" x2="239.44" y2="349.20" stroke="#000" stroke-width="1" />
<text x="238.84" y="356.00" font-size="6" font-weight="bold" text-anchor="middle" fill="#222" >80</text>
<line x1="258.30" y1="347.40" x2="258.30" y2="349.20" stroke="#000" stroke-width="1" />
<text x="257.70" y="356.00" font-size="6" font-weight="bold" text-anchor="middle" fill="#222" >100</text>
<circle cx="256.2" cy="284.6" r="1.45" fill="#000"/>
<circle cx="257.6" cy="285.9" r="1.45" fill="#000"/>
<circle cx="256.6" cy="288.4" r="1.45" fill="#000"/>
<circle cx="255.9" cy="267.9" r="1.45" fill="#000"/>
<circle cx="254.0" cy="270.7" r="1.45" fill="#000"/>
<circle cx="256.9" cy="274.0" r="1.45" fill="#000"/>
<circle cx="253.1" cy="275.9" r="1.45" fill="#000"/>
<circle cx="256.9" cy="277.8" r="1.45" fill="#000"/>
<circle cx="253.1" cy="279.3" r="1.45" fill="#000"/>
<circle cx="255.9" cy="285.3" r="1.45" fill="#000"/>
<circle cx="256.9" cy="286.9" r="1.45" fill="#000"/>
<circle cx="257.8" cy="287.2" r="1.45" fill="#000"/>
<circle cx="236.6" cy="298.0" r="1.45" fill="#000"/>
<circle cx="256.9" cy="296.7" r="1.45" fill="#000"/>
<circle cx="255.0" cy="299.0" r="1.45" fill="#000"/>
<circle cx="246.5" cy="301.1" r="1.45" fill="#000"/>
<circle cx="251.6" cy="303.4" r="1.45" fill="#000"/>
<circle cx="256.9" cy="306.6" r="1.45" fill="#000"/>
<circle cx="244.6" cy="309.0" r="1.45" fill="#000"/>
<circle cx="252.1" cy="310.6" r="1.45" fill="#000"/>
<circle cx="255.4" cy="314.7" r="1.45" fill="#000"/>
<circle cx="254.4" cy="316.0" r="1.45" fill="#000"/>
<text x="212.00" y="364.80" font-size="8.8" font-weight="bold" text-anchor="middle" fill="#000" >% grzA+</text>
<text x="167.00" y="269.60" font-size="8.1" font-weight="bold" text-anchor="start" fill="#000" >r = 0.2943</text>
<text x="167.00" y="278.90" font-size="8.1" font-weight="bold" text-anchor="start" fill="#000" >p = 0.0976</text>
<text transform="translate(146.20,299.40) rotate(-90)" font-size="8.7" font-weight="bold" text-anchor="middle">T-bet MFI</text>
<rect x="291.50" y="257.6" width="94.90" height="89.80" fill="none" stroke="#000" stroke-width="1.2"/>
<line x1="289.50" y1="347.40" x2="291.50" y2="347.40" stroke="#000" stroke-width="1" />
<text x="287.90" y="350.00" font-size="6" font-weight="bold" text-anchor="end" fill="#222" >0</text>
<line x1="289.50" y1="324.95" x2="291.50" y2="324.95" stroke="#000" stroke-width="1" />
<text x="287.90" y="327.55" font-size="6" font-weight="bold" text-anchor="end" fill="#222" >1000</text>
<line x1="289.50" y1="302.50" x2="291.50" y2="302.50" stroke="#000" stroke-width="1" />
<text x="287.90" y="305.10" font-size="6" font-weight="bold" text-anchor="end" fill="#222" >2000</text>
<line x1="289.50" y1="280.05" x2="291.50" y2="280.05" stroke="#000" stroke-width="1" />
<text x="287.90" y="282.65" font-size="6" font-weight="bold" text-anchor="end" fill="#222" >3000</text>
<line x1="289.50" y1="257.60" x2="291.50" y2="257.60" stroke="#000" stroke-width="1" />
<text x="287.90" y="260.20" font-size="6" font-weight="bold" text-anchor="end" fill="#222" >4000</text>
<line x1="291.50" y1="347.40" x2="291.50" y2="349.20" stroke="#000" stroke-width="1" />
<text x="290.90" y="356.00" font-size="6" font-weight="bold" text-anchor="middle" fill="#222" >0</text>
<line x1="310.48" y1="347.40" x2="310.48" y2="349.20" stroke="#000" stroke-width="1" />
<text x="309.88" y="356.00" font-size="6" font-weight="bold" text-anchor="middle" fill="#222" >20</text>
<line x1="329.46" y1="347.40" x2="329.46" y2="349.20" stroke="#000" stroke-width="1" />
<text x="328.86" y="356.00" font-size="6" font-weight="bold" text-anchor="middle" fill="#222" >40</text>
<line x1="348.44" y1="347.40" x2="348.44" y2="349.20" stroke="#000" stroke-width="1" />
<text x="347.84" y="356.00" font-size="6" font-weight="bold" text-anchor="middle" fill="#222" >60</text>
<line x1="367.42" y1="347.40" x2="367.42" y2="349.20" stroke="#000" stroke-width="1" />
<text x="366.82" y="356.00" font-size="6" font-weight="bold" text-anchor="middle" fill="#222" >80</text>
<line x1="386.40" y1="347.40" x2="386.40" y2="349.20" stroke="#000" stroke-width="1" />
<text x="385.80" y="356.00" font-size="6" font-weight="bold" text-anchor="middle" fill="#222" >100</text>
<circle cx="381.9" cy="267.6" r="1.45" fill="#000"/>
<circle cx="373.3" cy="270.2" r="1.45" fill="#000"/>
<circle cx="367.2" cy="275.3" r="1.45" fill="#000"/>
<circle cx="370.3" cy="277.8" r="1.45" fill="#000"/>
<circle cx="382.5" cy="274.9" r="1.45" fill="#000"/>
<circle cx="361.5" cy="279.0" r="1.45" fill="#000"/>
<circle cx="383.9" cy="285.1" r="1.45" fill="#000"/>
<circle cx="379.4" cy="286.1" r="1.45" fill="#000"/>
<circle cx="371.3" cy="287.9" r="1.45" fill="#000"/>
<circle cx="339.4" cy="297.7" r="1.45" fill="#000"/>
<circle cx="348.9" cy="300.7" r="1.45" fill="#000"/>
<circle cx="351.4" cy="302.8" r="1.45" fill="#000"/>
<circle cx="380.4" cy="296.1" r="1.45" fill="#000"/>
<circle cx="379.4" cy="297.7" r="1.45" fill="#000"/>
<circle cx="378.0" cy="298.7" r="1.45" fill="#000"/>
<circle cx="335.7" cy="303.8" r="1.45" fill="#000"/>
<circle cx="376.4" cy="306.4" r="1.45" fill="#000"/>
<circle cx="358.1" cy="308.9" r="1.45" fill="#000"/>
<circle cx="339.2" cy="309.9" r="1.45" fill="#000"/>
<circle cx="359.7" cy="315.6" r="1.45" fill="#000"/>
<circle cx="362.6" cy="314.3" r="1.45" fill="#000"/>
<text x="341.50" y="364.80" font-size="8.2" font-weight="bold" text-anchor="middle" fill="#000" >% grzB+</text>
<text x="299.80" y="269.20" font-size="8.1" font-weight="bold" text-anchor="start" fill="#000" >r = 0.5714</text>
<text x="299.80" y="278.50" font-size="8.1" font-weight="bold" text-anchor="start" fill="#000" >p = 0.0034</text>
<text transform="translate(273.70,299.40) rotate(-90)" font-size="8.7" font-weight="bold" text-anchor="middle">T-bet MFI</text>
<rect x="420.30" y="257.6" width="95.10" height="89.80" fill="none" stroke="#000" stroke-width="1.2"/>
<line x1="418.30" y1="347.40" x2="420.30" y2="347.40" stroke="#000" stroke-width="1" />
<text x="416.70" y="350.00" font-size="6" font-weight="bold" text-anchor="end" fill="#222" >0</text>
<line x1="418.30" y1="324.95" x2="420.30" y2="324.95" stroke="#000" stroke-width="1" />
<text x="416.70" y="327.55" font-size="6" font-weight="bold" text-anchor="end" fill="#222" >1000</text>
<line x1="418.30" y1="302.50" x2="420.30" y2="302.50" stroke="#000" stroke-width="1" />
<text x="416.70" y="305.10" font-size="6" font-weight="bold" text-anchor="end" fill="#222" >2000</text>
<line x1="418.30" y1="280.05" x2="420.30" y2="280.05" stroke="#000" stroke-width="1" />
<text x="416.70" y="282.65" font-size="6" font-weight="bold" text-anchor="end" fill="#222" >3000</text>
<line x1="418.30" y1="257.60" x2="420.30" y2="257.60" stroke="#000" stroke-width="1" />
<text x="416.70" y="260.20" font-size="6" font-weight="bold" text-anchor="end" fill="#222" >4000</text>
<line x1="420.30" y1="347.40" x2="420.30" y2="349.20" stroke="#000" stroke-width="1" />
<text x="419.70" y="356.00" font-size="6" font-weight="bold" text-anchor="middle" fill="#222" >0</text>
<line x1="439.32" y1="347.40" x2="439.32" y2="349.20" stroke="#000" stroke-width="1" />
<text x="438.72" y="356.00" font-size="6" font-weight="bold" text-anchor="middle" fill="#222" >20</text>
<line x1="458.34" y1="347.40" x2="458.34" y2="349.20" stroke="#000" stroke-width="1" />
<text x="457.74" y="356.00" font-size="6" font-weight="bold" text-anchor="middle" fill="#222" >40</text>
<line x1="477.36" y1="347.40" x2="477.36" y2="349.20" stroke="#000" stroke-width="1" />
<text x="476.76" y="356.00" font-size="6" font-weight="bold" text-anchor="middle" fill="#222" >60</text>
<line x1="496.38" y1="347.40" x2="496.38" y2="349.20" stroke="#000" stroke-width="1" />
<text x="495.78" y="356.00" font-size="6" font-weight="bold" text-anchor="middle" fill="#222" >80</text>
<line x1="515.40" y1="347.40" x2="515.40" y2="349.20" stroke="#000" stroke-width="1" />
<text x="514.80" y="356.00" font-size="6" font-weight="bold" text-anchor="middle" fill="#222" >100</text>
<circle cx="430.2" cy="267.8" r="1.45" fill="#000"/>
<circle cx="451.5" cy="270.7" r="1.45" fill="#000"/>
<circle cx="428.6" cy="275.3" r="1.45" fill="#000"/>
<circle cx="442.8" cy="275.7" r="1.45" fill="#000"/>
<circle cx="437.9" cy="278.0" r="1.45" fill="#000"/>
<circle cx="468.4" cy="279.0" r="1.45" fill="#000"/>
<circle cx="433.2" cy="285.5" r="1.45" fill="#000"/>
<circle cx="446.5" cy="286.5" r="1.45" fill="#000"/>
<circle cx="465.8" cy="288.5" r="1.45" fill="#000"/>
<circle cx="430.6" cy="298.7" r="1.45" fill="#000"/>
<circle cx="434.7" cy="298.1" r="1.45" fill="#000"/>
<circle cx="466.2" cy="297.9" r="1.45" fill="#000"/>
<circle cx="478.4" cy="296.1" r="1.45" fill="#000"/>
<circle cx="473.9" cy="301.3" r="1.45" fill="#000"/>
<circle cx="472.9" cy="303.4" r="1.45" fill="#000"/>
<circle cx="476.5" cy="303.2" r="1.45" fill="#000"/>
<circle cx="468.4" cy="306.8" r="1.45" fill="#000"/>
<circle cx="457.2" cy="308.9" r="1.45" fill="#000"/>
<circle cx="475.5" cy="309.9" r="1.45" fill="#000"/>
<circle cx="461.3" cy="316.0" r="1.45" fill="#000"/>
<circle cx="484.0" cy="315.0" r="1.45" fill="#000"/>
<text x="469.20" y="364.80" font-size="8.8" font-weight="bold" text-anchor="middle" fill="#000" >% grzK+</text>
<text x="474.90" y="268.60" font-size="8.1" font-weight="bold" text-anchor="start" fill="#000" >r = -0.6143</text>
<text x="474.90" y="277.90" font-size="8.1" font-weight="bold" text-anchor="start" fill="#000" >p= 0.0015</text>
<text transform="translate(402.50,299.40) rotate(-90)" font-size="8.7" font-weight="bold" text-anchor="middle">T-bet MFI</text>
</svg>
</body></html>
